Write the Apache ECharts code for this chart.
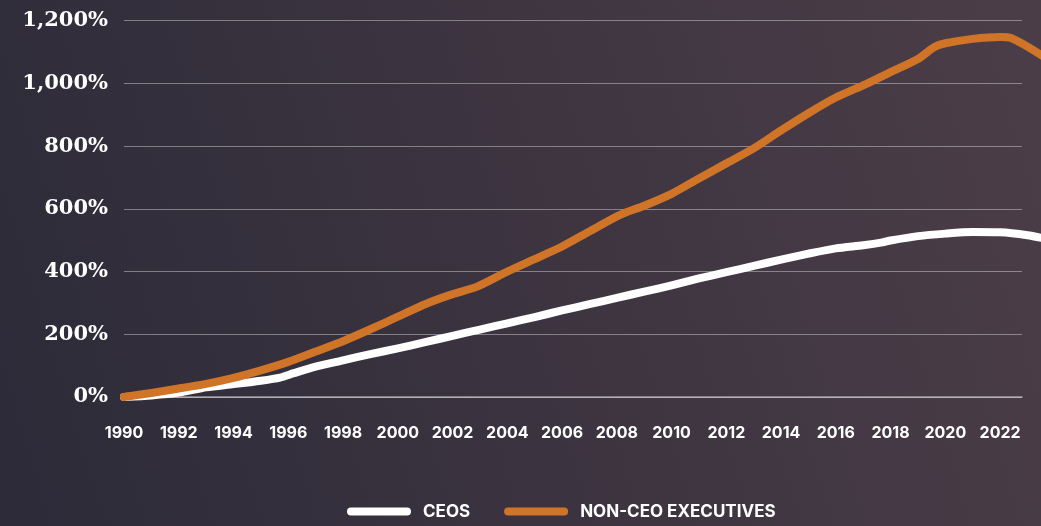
<!DOCTYPE html>
<html>
<head>
<meta charset="utf-8">
<script src="https://cdn.jsdelivr.net/npm/echarts@6/dist/echarts.min.js"></script>
<style>
  html, body { margin: 0; padding: 0; }
  #chart { width: 1041px; height: 526px; }
</style>
</head>
<body>
<div id="chart"></div>
<script>
// Cumulative pay growth since 1990 (%)
const ceoYears = [1990, 1991, 1992, 1993, 1994, 1995, 1995.7, 1996.2, 1997, 1998, 1999, 2000, 2001, 2002, 2003, 2004, 2005, 2006, 2007, 2008, 2009, 2010, 2011, 2012, 2013, 2014, 2015, 2016, 2017, 2017.7, 2018, 2019, 2020, 2021, 2022, 2023, 2023.6];
const ceoValues = [0, 5, 14, 31, 41, 52, 62, 76, 97, 117, 137, 155, 175, 195, 215, 235, 255, 276, 296, 316, 336, 356, 378, 398, 418, 438, 457, 474, 484, 493, 499, 513, 521, 526, 525, 516, 506];

const execYears = [1990, 1991, 1992, 1993, 1994, 1995, 1996, 1997, 1998, 1999, 2000, 2001, 2002, 2002.9, 2004, 2005, 2006, 2007, 2008.1, 2009, 2010, 2011, 2012, 2013, 2014, 2015, 2016, 2017.1, 2018, 2019, 2019.6, 2020, 2021, 2022, 2022.4, 2023.6];
const execValues = [0, 13, 27, 42, 61, 85, 112, 145, 178, 216, 256, 296, 328, 352, 400, 440, 480, 528, 580, 610, 648, 697, 745, 793, 850, 905, 955, 998, 1036, 1078, 1116, 1128, 1142, 1148, 1145, 1085];

const xTickYears = [1990, 1992, 1994, 1996, 1998, 2000, 2002, 2004, 2006, 2008, 2010, 2012, 2014, 2016, 2018, 2020, 2022];
const yTicks = [0, 200, 400, 600, 800, 1000, 1200];

const seriesNames = ['CEOS', 'NON-CEO EXECUTIVES'];
const seriesColors = ['#ffffff', '#d07428'];

const pair = (xs, ys) => xs.map((x, i) => [x, ys[i]]);

const chart = echarts.init(document.getElementById('chart'), null, { renderer: 'canvas' });

// the axis grid stops short of the right edge while the lines run on past it
const plotLeft = 124, plotTop = 20.7, plotHeight = 376.3;
const axisWidth = 898, lineWidthArea = 978;
const xMin = 1990, xMaxAxis = 2022.8;
const xMaxLines = xMin + (xMaxAxis - xMin) * lineWidthArea / axisWidth;

const pillIcon = 'path://M4,0 H60 A4,4 0 0 1 60,8 H4 A4,4 0 0 1 4,0 Z';

chart.setOption({
  backgroundColor: new echarts.graphic.LinearGradient(0, 0.8, 1, 0.2, [
    { offset: 0, color: '#2d2b39' },
    { offset: 1, color: '#4b3d47' }
  ]),
  animation: false,
  grid: [
    { left: plotLeft, top: plotTop, width: axisWidth, height: plotHeight, outerBoundsMode: 'none' },
    { left: plotLeft, top: plotTop, width: lineWidthArea, height: plotHeight, outerBoundsMode: 'none' }
  ],
  xAxis: [
    {
      gridIndex: 0, type: 'value', min: xMin, max: xMaxAxis, interval: 2,
      axisLine: { show: true, lineStyle: { color: 'rgba(255,255,255,0.5)', width: 1.5 } },
      axisTick: { show: false },
      splitLine: { show: false },
      axisLabel: {
        showMaxLabel: false,
        margin: 28,
        color: '#ffffff',
        fontFamily: 'Inter',
        fontWeight: 700,
        fontSize: 16,
        formatter: v => (xTickYears.indexOf(v) >= 0 ? String(v) : '')
      }
    },
    {
      gridIndex: 1, type: 'value', min: xMin, max: xMaxLines, show: false
    }
  ],
  yAxis: [
    {
      gridIndex: 0, type: 'value', min: yTicks[0], max: yTicks[yTicks.length - 1], interval: 200,
      axisLine: { show: false },
      axisTick: { show: false },
      splitLine: { show: true, lineStyle: { color: 'rgba(255,255,255,0.38)', width: 1 } },
      axisLabel: {
        margin: 16,
        color: '#ffffff',
        fontFamily: 'DejaVu Serif',
        fontWeight: 'bold',
        fontSize: 21,
        formatter: v => v.toLocaleString('en-US') + '%'
      }
    },
    {
      gridIndex: 1, type: 'value', min: yTicks[0], max: yTicks[yTicks.length - 1], show: false
    }
  ],
  legend: {
    left: 347,
    top: 503,
    padding: 0,
    itemWidth: 64,
    itemHeight: 9,
    itemGap: 34,
    icon: pillIcon,
    data: seriesNames,
    textStyle: {
      color: '#ffffff',
      fontFamily: 'Inter',
      fontWeight: 700,
      fontSize: 17,
      padding: [0, 0, 0, 7]
    }
  },
  series: [
    {
      name: seriesNames[0], type: 'line', xAxisIndex: 1, yAxisIndex: 1,
      data: pair(ceoYears, ceoValues),
      smooth: 0.25, showSymbol: false, clip: false,
      itemStyle: { color: seriesColors[0] },
      lineStyle: { color: seriesColors[0], width: 8, cap: 'round', join: 'round' }
    },
    {
      name: seriesNames[1], type: 'line', xAxisIndex: 1, yAxisIndex: 1,
      data: pair(execYears, execValues),
      smooth: 0.25, showSymbol: false, clip: false,
      itemStyle: { color: seriesColors[1] },
      lineStyle: { color: seriesColors[1], width: 8, cap: 'round', join: 'round' }
    }
  ]
});
</script>
</body>
</html>
